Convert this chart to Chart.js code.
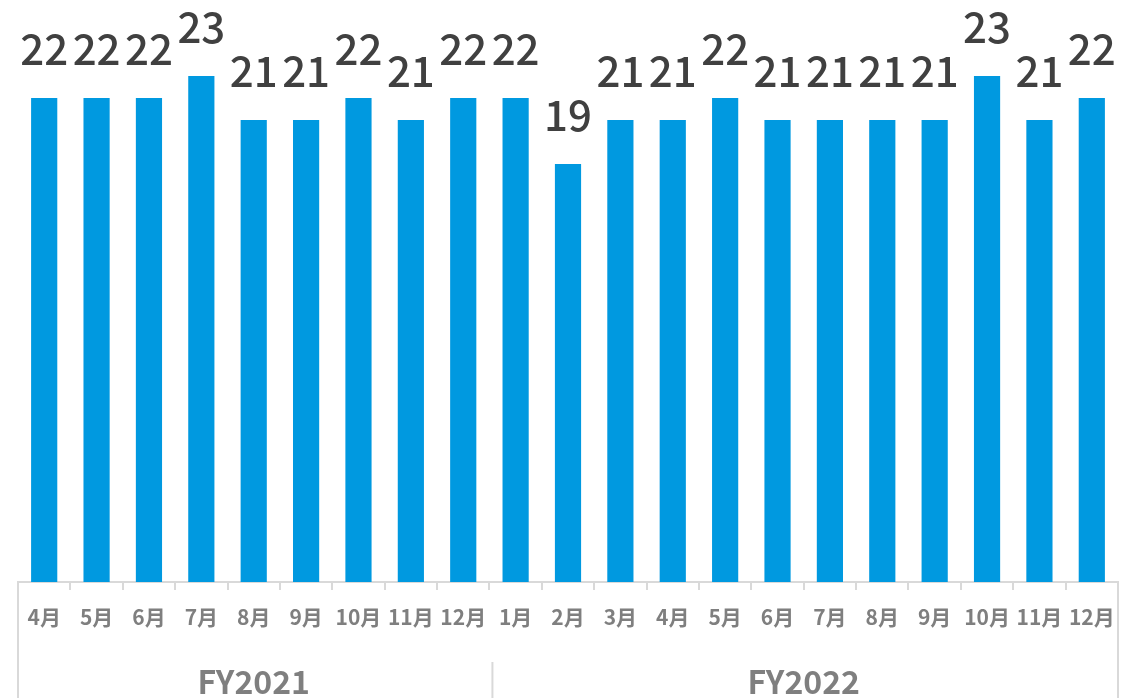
<!DOCTYPE html>
<html>
<head>
<meta charset="utf-8">
<script src="https://cdn.jsdelivr.net/npm/chart.js@4"></script>
<style>
    html, body { margin: 0; padding: 0; background: #fff; }
    #wrap { width: 1140px; height: 698px; position: relative; }
</style>
</head>
<body>
<div id="wrap"><canvas id="workdays"></canvas></div>
<script>
// Data
const months = ['4月', '5月', '6月', '7月', '8月', '9月', '10月', '11月', '12月', '1月', '2月', '3月',
    '4月', '5月', '6月', '7月', '8月', '9月', '10月', '11月', '12月'];
const days = [22, 22, 22, 23, 21, 21, 22, 21, 22, 22, 19, 21, 21, 22, 21, 21, 21, 21, 23, 21, 22];
const fiscalYears = ['FY2021', 'FY2022'];
const fiscalYearSizes = [9, 12];

const FONT = '"Noto Sans CJK JP", "Noto Sans", sans-serif';
const LINE_COLOR = '#d9d9d9';

// value labels above each bar
const valueLabels = {
    id: 'valueLabels',
    afterDatasetsDraw(chart) {
        const ctx = chart.ctx;
        const meta = chart.getDatasetMeta(0);
        ctx.save();
        ctx.font = '500 42px ' + FONT;
        ctx.fillStyle = '#404040';
        ctx.textAlign = 'center';
        ctx.textBaseline = 'alphabetic';
        meta.data.forEach((bar, i) => {
            ctx.fillText(String(days[i]), bar.x, bar.y - 33);
        });
        ctx.restore();
    }
};

// fiscal year row under the month labels
const yearGroups = {
    id: 'yearGroups',
    afterDraw(chart) {
        const ctx = chart.ctx;
        const x = chart.scales.x;
        const area = chart.chartArea;
        const half = (x.getPixelForValue(1) - x.getPixelForValue(0)) / 2;
        ctx.save();
        ctx.strokeStyle = LINE_COLOR;
        ctx.lineWidth = 2;
        // outer borders
        [area.left, area.right].forEach(px => {
            ctx.beginPath();
            ctx.moveTo(px, area.bottom);
            ctx.lineTo(px, chart.height);
            ctx.stroke();
        });
        ctx.font = 'bold 32px ' + FONT;
        ctx.fillStyle = '#7f7f7f';
        ctx.textAlign = 'center';
        ctx.textBaseline = 'alphabetic';
        let start = 0;
        fiscalYears.forEach((fy, g) => {
            const end = start + fiscalYearSizes[g] - 1;
            const left = x.getPixelForValue(start) - half;
            const right = x.getPixelForValue(end) + half;
            if (g > 0) {
                ctx.beginPath();
                ctx.moveTo(left + 3, area.bottom + 80);
                ctx.lineTo(left + 3, chart.height);
                ctx.stroke();
            }
            ctx.fillText(fy, (left + right) / 2, 694);
            start = end + 1;
        });
        ctx.restore();
    }
};

new Chart(document.getElementById('workdays'), {
    type: 'bar',
    data: {
        labels: months,
        datasets: [{
            data: days,
            backgroundColor: '#0099e0',
            borderWidth: 0,
            barPercentage: 1,
            categoryPercentage: 0.5
        }]
    },
    options: {
        responsive: true,
        maintainAspectRatio: false,
        animation: false,
        layout: { padding: { top: 32, left: 18, right: 22, bottom: 0 } },
        plugins: { legend: { display: false }, tooltip: { enabled: false } },
        scales: {
            x: {
                grid: { drawOnChartArea: false, drawTicks: true, tickLength: 8, color: LINE_COLOR, lineWidth: 2 },
                border: { display: true, color: LINE_COLOR, width: 2 },
                ticks: {
                    color: '#7f7f7f',
                    font: { family: FONT, size: 21, weight: 'bold' },
                    padding: 14,
                    maxRotation: 0,
                    autoSkip: false
                },
                afterFit(scale) { scale.height = 116; }
            },
            y: { display: false, min: 0, max: 25 }
        }
    },
    plugins: [valueLabels, yearGroups]
});
</script>
</body>
</html>
